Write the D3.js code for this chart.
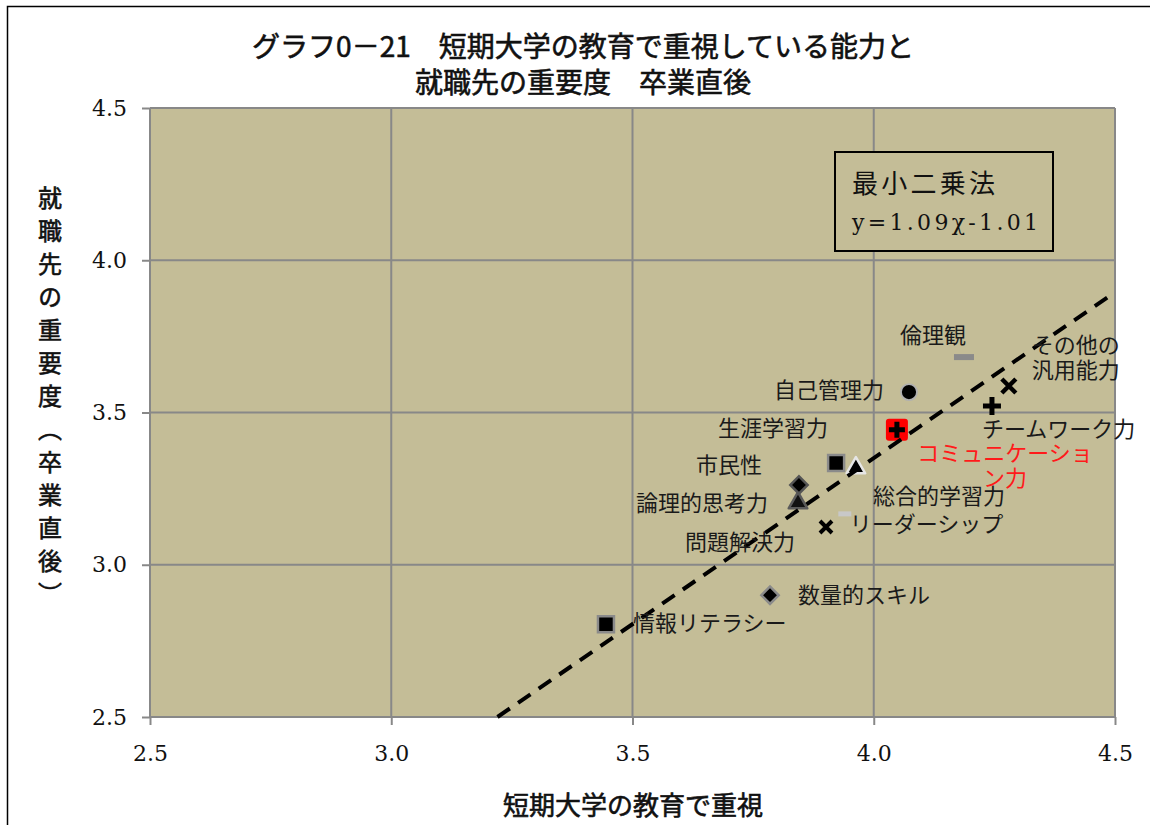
<!DOCTYPE html>
<html lang="ja">
<head>
<meta charset="utf-8">
<title>短期大学の教育で重視している能力と就職先の重要度 卒業直後</title>
<script src="https://cdn.jsdelivr.net/npm/d3@7"></script>
<style>
  html, body { margin: 0; padding: 0; background: #ffffff; }
  svg { display: block; }
</style>
</head>
<body>
<svg id="chart" width="1150" height="825"></svg>
<script>
// ---- data ----
const abilities = [
  "情報リテラシー", "数量的スキル", "問題解決力", "リーダーシップ", "論理的思考力",
  "市民性", "生涯学習力", "総合的学習力", "コミュニケーション力", "自己管理力",
  "倫理観", "チームワーク力", "その他の汎用能力"
];
// 短期大学の教育で重視 (x)
const collegeEmphasis = [3.445, 3.785, 3.901, 3.940, 3.843, 3.845, 3.922, 3.963, 4.048, 4.073, 4.187, 4.245, 4.280];
// 就職先の重要度（卒業直後） (y)
const employerImportance = [2.805, 2.900, 3.124, 3.167, 3.203, 3.262, 3.334, 3.318, 3.443, 3.567, 3.682, 3.521, 3.587];
const xTicks = [2.5, 3.0, 3.5, 4.0, 4.5];
const yTicks = [2.5, 3.0, 3.5, 4.0, 4.5];
// 最小二乗法 regression coefficients
const fitSlope = 1.09;
const fitIntercept = -1.01;

const titleLines = ["グラフ0－21　短期大学の教育で重視している能力と", "就職先の重要度　卒業直後"];
const xTitle = "短期大学の教育で重視";
const yTitle = "就職先の重要度（卒業直後）";

// ---- presentation ----
const JP = "'Noto Sans CJK JP', 'Noto Sans', sans-serif";
const NUM = "'DejaVu Serif', 'Liberation Serif', serif";
const PLOT_BG = "#c4bd97";
const GRID = "#888888";

// marker style per ability (shape, fill, stroke)
const markerStyle = {
  "情報リテラシー":   { shape: "square",   fill: "#000", stroke: "#8a8a8a" },
  "数量的スキル":     { shape: "diamond",  fill: "#000", stroke: "#8a8a8a" },
  "問題解決力":       { shape: "times",    r: 6, sw: 4 },
  "リーダーシップ":   { shape: "dash",     fill: "#c8c8c8", w: 13, h: 5 },
  "論理的思考力":     { shape: "triangle", fill: "#111", stroke: "#5a5a5a" },
  "市民性":           { shape: "diamond",  fill: "#000", stroke: "#555" },
  "生涯学習力":       { shape: "square",   fill: "#000", stroke: "#8a8a8a" },
  "総合的学習力":     { shape: "triangle", fill: "#000", stroke: "#e6e6e6" },
  "コミュニケーション力": { shape: "redplus" },
  "自己管理力":       { shape: "circle",   fill: "#000", stroke: "#b0b0b0" },
  "倫理観":           { shape: "dash",     fill: "#8a8a8a", w: 20, h: 6 },
  "チームワーク力":   { shape: "plus",     r: 9, sw: 5 },
  "その他の汎用能力": { shape: "times",    r: 7, sw: 4.5 }
};

// label placement relative to the marker (pixels), and line breaks
const labelLayout = {
  "情報リテラシー":   { dx: 27,  dy: -1,  anchor: "start" },
  "数量的スキル":     { dx: 28,  dy: 0,   anchor: "start" },
  "問題解決力":       { dx: -31, dy: 15,  anchor: "end" },
  "リーダーシップ":   { dx: 5,   dy: 10,  anchor: "start" },
  "論理的思考力":     { dx: -30, dy: 0,   anchor: "end" },
  "市民性":           { dx: -37, dy: -20, anchor: "end" },
  "生涯学習力":       { dx: -8,  dy: -35, anchor: "end" },
  "総合的学習力":     { dx: 17,  dy: 28,  anchor: "start" },
  "コミュニケーション力": { dx: 108, dy: 23, anchor: "middle", breakAt: 8, color: "#ff1a1a" },
  "自己管理力":       { dx: -25, dy: -2,  anchor: "end" },
  "倫理観":           { dx: -64, dy: -22, anchor: "start" },
  "チームワーク力":   { dx: -10, dy: 23,  anchor: "start" },
  "その他の汎用能力": { dx: 23,  dy: -41, anchor: "start", breakAt: 4 }
};
const LABEL_LINE = 25;

const svg = d3.select("#chart");
const W = 1150, H = 825;
const plot = { left: 150, right: 1115, top: 108, bottom: 717 };

// outer frame (extends past the right/bottom edges)
svg.append("rect")
  .attr("x", 7.5).attr("y", 6.5)
  .attr("width", W + 50).attr("height", H + 50)
  .attr("fill", "#fff").attr("stroke", "#000").attr("stroke-width", 1.5);

const x = d3.scaleLinear().domain([2.5, 4.5]).range([plot.left, plot.right]);
const y = d3.scaleLinear().domain([2.5, 4.5]).range([plot.bottom, plot.top]);

// plot area
svg.append("rect")
  .attr("x", plot.left).attr("y", plot.top)
  .attr("width", plot.right - plot.left).attr("height", plot.bottom - plot.top)
  .attr("fill", PLOT_BG);

// gridlines
const grid = svg.append("g").attr("stroke", GRID).attr("stroke-width", 2);
grid.selectAll("line.gx").data(xTicks).join("line")
  .attr("x1", d => x(d)).attr("x2", d => x(d))
  .attr("y1", plot.top).attr("y2", plot.bottom);
grid.selectAll("line.gy").data(yTicks).join("line")
  .attr("y1", d => y(d)).attr("y2", d => y(d))
  .attr("x1", plot.left).attr("x2", plot.right);

// axes
const fmt = d3.format(".1f");
const yAxis = svg.append("g").attr("transform", `translate(${plot.left},0)`)
  .call(d3.axisLeft(y).tickValues(yTicks).tickFormat(fmt).tickSize(8).tickPadding(15));
const xAxis = svg.append("g").attr("transform", `translate(0,${plot.bottom})`)
  .call(d3.axisBottom(x).tickValues(xTicks).tickFormat(fmt).tickSize(8).tickPadding(20));
[xAxis, yAxis].forEach(a => {
  a.select(".domain").remove();
  a.selectAll(".tick line").attr("stroke", GRID).attr("stroke-width", 2);
  a.selectAll(".tick text")
    .attr("font-family", NUM).attr("font-size", 22).attr("fill", "#111");
});

// markers
const points = abilities.map((name, i) => ({ name, vx: collegeEmphasis[i], vy: employerImportance[i] }));
const markers = svg.append("g");
points.forEach(p => {
  const st = markerStyle[p.name];
  const g = markers.append("g").attr("transform", `translate(${x(p.vx)},${y(p.vy)})`);
  switch (st.shape) {
    case "square":
      g.append("path").attr("d", d3.symbol(d3.symbolSquare, 256)())
        .attr("fill", st.fill).attr("stroke", st.stroke).attr("stroke-width", 2.5);
      break;
    case "diamond":
      g.append("path").attr("d", d3.symbol(d3.symbolSquare, 150)())
        .attr("transform", "rotate(45)")
        .attr("fill", st.fill).attr("stroke", st.stroke).attr("stroke-width", 2.5);
      break;
    case "triangle":
      g.append("path").attr("d", d3.symbol(d3.symbolTriangle, 150)())
        .attr("fill", st.fill).attr("stroke", st.stroke).attr("stroke-width", 2.5)
        .attr("stroke-linejoin", "round");
      break;
    case "circle":
      g.append("circle").attr("r", 8)
        .attr("fill", st.fill).attr("stroke", st.stroke).attr("stroke-width", 1.8);
      break;
    case "dash":
      g.append("rect").attr("x", -st.w / 2).attr("y", -st.h / 2)
        .attr("width", st.w).attr("height", st.h).attr("fill", st.fill);
      break;
    case "times":
      g.append("path")
        .attr("d", `M${-st.r},${-st.r}L${st.r},${st.r}M${-st.r},${st.r}L${st.r},${-st.r}`)
        .attr("stroke", "#000").attr("stroke-width", st.sw).attr("fill", "none");
      break;
    case "plus":
      g.append("path")
        .attr("d", `M${-st.r},0H${st.r}M0,${-st.r}V${st.r}`)
        .attr("stroke", "#000").attr("stroke-width", st.sw).attr("fill", "none");
      break;
    case "redplus":
      g.append("rect").attr("x", -11).attr("y", -11).attr("width", 22).attr("height", 22)
        .attr("rx", 3).attr("fill", "#ff0000");
      g.append("path").attr("d", "M-8,0H8M0,-8V8")
        .attr("stroke", "#000").attr("stroke-width", 5).attr("fill", "none");
      break;
  }
});

// least-squares line, clipped to the plot domain
const fit = v => fitSlope * v + fitIntercept;
const xStart = Math.max(2.5, (2.5 - fitIntercept) / fitSlope);
const xEnd = Math.min(4.5, (4.5 - fitIntercept) / fitSlope);
svg.append("path")
  .datum([xStart, xEnd])
  .attr("d", d3.line().x(d => x(d)).y(d => y(fit(d))))
  .attr("fill", "none").attr("stroke", "#000").attr("stroke-width", 4)
  .attr("stroke-dasharray", "15,10");

// data labels
const labels = svg.append("g").attr("font-family", JP).attr("font-size", 22);
points.forEach(p => {
  const L = labelLayout[p.name];
  const lines = L.breakAt ? [p.name.slice(0, L.breakAt), p.name.slice(L.breakAt)] : [p.name];
  const t = labels.append("text")
    .attr("text-anchor", L.anchor)
    .attr("fill", L.color || "#1a1a1a");
  lines.forEach((ln, k) => {
    t.append("tspan")
      .attr("x", x(p.vx) + L.dx)
      .attr("y", y(p.vy) + L.dy + 8 + k * LABEL_LINE)
      .text(ln);
  });
});

// equation box
const box = svg.append("g");
box.append("rect")
  .attr("x", 835).attr("y", 152).attr("width", 218).attr("height", 99)
  .attr("fill", PLOT_BG).attr("stroke", "#000").attr("stroke-width", 2);
box.append("text")
  .attr("x", 852).attr("y", 193)
  .attr("font-family", JP).attr("font-size", 26).attr("fill", "#111")
  .attr("textLength", 143).attr("lengthAdjust", "spacing")
  .text("最小二乗法");
box.append("text")
  .attr("x", 852).attr("y", 230)
  .attr("font-family", NUM).attr("font-size", 22).attr("fill", "#111")
  .attr("textLength", 186).attr("lengthAdjust", "spacing")
  .text(`y=${fitSlope.toFixed(2)}χ${fitIntercept.toFixed(2)}`);

// titles (regular weight with a thin outline for a medium look)
const heavy = sel => sel.attr("fill", "#111").attr("stroke", "#111").attr("stroke-width", 0.6);

svg.append("g").attr("font-family", JP).attr("font-size", 28)
  .attr("text-anchor", "middle")
  .selectAll("text").data(titleLines).join("text")
  .attr("x", 583).attr("y", (d, i) => 57 + i * 36)
  .call(heavy)
  .text(d => d);

svg.append("text")
  .attr("x", 633).attr("y", 815)
  .attr("font-family", JP).attr("font-size", 26)
  .attr("text-anchor", "middle")
  .call(heavy)
  .text(xTitle);

svg.append("text")
  .attr("x", 50).attr("y", 186)
  .attr("font-family", JP).attr("font-size", 24)
  .style("writing-mode", "vertical-rl")
  .style("letter-spacing", "9px")
  .call(heavy)
  .text(yTitle);
</script>
</body>
</html>
